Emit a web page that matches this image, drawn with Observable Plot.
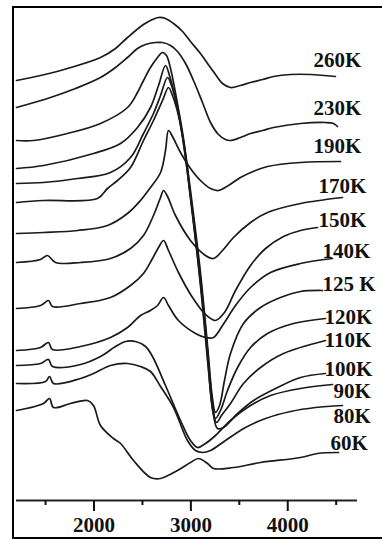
<!DOCTYPE html>
<html><head><meta charset="utf-8">
<script src="https://cdn.jsdelivr.net/npm/d3@7"></script>
<script src="https://cdn.jsdelivr.net/npm/@observablehq/plot@0.6"></script>
<style>
body{margin:0;background:#fff;}
#wrap{position:relative;width:382px;height:539px;overflow:hidden;}
#box{position:absolute;left:12px;top:6px;width:400px;height:529px;border:2px solid #000;border-right:none;pointer-events:none;}
</style>
</head><body><div id="wrap"><div id="chart"></div><div id="box"></div></div>
<script>
// wavenumber (cm^-1), offset absorbance (arb. units)
const k260 = [[1200,42.0],[1448,42.5],[1726,43.2],[2067,44.3],[2222,45.2],[2346,46.3],[2511,47.6],[2604,48.1],[2666,48.3],[2738,48.2],[2821,47.7],[2914,46.9],[2996,45.9],[3099,44.7],[3172,43.7],[3254,42.6],[3327,41.7],[3409,41.3],[3512,41.5],[3616,41.8],[3740,42.1],[3853,42.4],[4029,42.6],[4235,42.6],[4493,42.4]];
const k230 = [[1200,39.3],[1551,40.3],[1809,41.2],[2067,42.3],[2222,43.3],[2346,44.3],[2449,45.2],[2532,45.6],[2635,45.8],[2707,45.8],[2790,45.5],[2862,44.9],[2945,43.7],[3027,42.0],[3120,39.8],[3203,37.8],[3285,36.6],[3357,36.1],[3409,36.0],[3512,36.3],[3616,36.7],[3740,37.0],[3853,37.3],[4132,37.7],[4390,37.8],[4472,37.7],[4514,37.4]];
const k190 = [[1200,26.7],[1479,26.8],[1830,27.0],[2139,27.5],[2346,28.7],[2480,30.0],[2583,31.3],[2687,32.8],[2738,35.0],[2769,37.0],[2810,36.4],[2893,34.8],[2996,33.2],[3099,32.0],[3203,31.2],[3285,31.0],[3388,31.5],[3512,32.3],[3667,33.0],[3791,33.4],[4132,33.8],[4545,33.9]];
const k170 = [[1200,23.8],[1448,24.1],[1520,24.5],[1603,23.8],[1861,23.8],[2170,24.2],[2377,25.2],[2511,26.5],[2614,28.5],[2687,30.3],[2718,31.0],[2759,30.4],[2841,28.5],[2996,26.0],[3151,24.5],[3234,24.2],[3327,25.0],[3440,26.3],[3616,27.8],[3791,28.8],[4132,29.7],[4565,30.3]];
const k150 = [[1200,19.2],[1448,19.5],[1530,20.0],[1572,19.4],[1861,19.7],[2170,20.3],[2377,21.5],[2511,22.7],[2604,24.2],[2666,25.3],[2718,26.0],[2769,25.0],[2872,22.8],[3017,20.3],[3151,18.6],[3254,18.0],[3347,18.8],[3461,21.0],[3616,23.5],[3771,25.2],[3956,26.4],[4132,27.0],[4307,27.3]];
const k140 = [[1200,15.0],[1448,15.3],[1530,15.8],[1572,15.1],[1861,15.4],[2170,16.3],[2346,17.3],[2480,18.5],[2583,19.0],[2656,19.5],[2718,20.3],[2769,19.5],[2872,18.0],[3048,16.7],[3151,16.3],[3234,16.3],[3327,17.5],[3461,19.5],[3616,21.3],[3822,22.8],[4132,23.7],[4462,24.2]];
const k125 = [[1200,36.0],[1375,36.0],[1726,36.7],[2067,37.7],[2346,39.3],[2449,40.8],[2511,42.0],[2583,43.3],[2656,44.3],[2707,44.8],[2748,44.5],[2790,43.2],[2852,40.2],[2914,36.8],[2996,31.0],[3099,22.8],[3172,15.5],[3223,10.2],[3254,8.8],[3296,9.5],[3347,12.0],[3409,14.7],[3543,17.7],[3719,19.3],[3925,20.3],[4132,20.9],[4359,21.0]];
const k120 = [[1200,33.2],[1479,33.5],[1995,34.7],[2274,35.7],[2449,37.3],[2583,39.3],[2666,41.5],[2738,43.5],[2779,42.5],[2852,39.7],[2914,36.3],[2996,30.5],[3099,22.2],[3172,15.0],[3223,9.7],[3254,8.2],[3306,9.0],[3378,11.0],[3482,13.3],[3616,15.3],[3791,16.7],[4059,17.7],[4390,18.2]];
const k110 = [[1200,31.7],[1479,31.8],[1830,32.2],[2170,32.8],[2377,34.3],[2511,36.7],[2614,38.7],[2687,40.5],[2759,42.3],[2800,41.5],[2862,39.2],[2924,35.9],[2996,30.2],[3099,21.8],[3172,14.5],[3223,9.2],[3265,7.8],[3316,8.5],[3409,9.7],[3543,11.7],[3719,13.3],[3956,14.7],[4390,16.0]];
const k100 = [[1200,29.8],[1479,30.0],[2036,30.2],[2139,31.2],[2243,32.0],[2377,33.3],[2511,36.0],[2614,38.0],[2707,40.0],[2769,41.3],[2810,40.5],[2872,38.5],[2934,35.3],[3006,29.7],[3099,21.5],[3172,14.0],[3234,8.5],[3275,7.2],[3337,7.3],[3482,8.7],[3647,10.0],[3895,11.3],[4132,12.3],[4390,12.7]];
const k90 = [[1200,13.5],[1448,13.7],[1530,14.1],[1572,13.4],[1861,13.6],[2067,14.4],[2222,15.4],[2325,15.9],[2428,15.9],[2532,15.4],[2604,14.4],[2738,11.5],[2893,8.0],[2996,6.0],[3068,5.3],[3151,5.7],[3254,6.5],[3409,8.0],[3616,9.5],[3822,10.5],[4132,11.2],[4462,11.6]];
const k80 = [[1200,11.7],[1499,11.9],[1541,12.4],[1582,11.7],[1861,12.2],[1995,12.7],[2170,13.5],[2346,13.7],[2480,13.4],[2583,12.9],[2687,11.4],[2821,9.3],[2965,6.0],[3048,5.0],[3120,4.8],[3203,5.0],[3357,6.0],[3564,7.3],[3771,8.2],[4029,8.9],[4287,9.3],[4565,9.5]];
const k60 = [[1200,9.0],[1479,9.7],[1541,10.2],[1582,9.3],[1757,9.7],[1933,10.0],[1995,9.5],[2067,7.5],[2201,6.2],[2274,5.7],[2408,4.0],[2583,2.3],[2687,2.2],[2862,3.0],[2996,3.8],[3079,4.2],[3172,3.7],[3234,3.2],[3440,3.3],[3719,3.8],[4132,4.3],[4307,4.7],[4524,4.8]];

const seriesNames = ["260K","230K","190K","170K","150K","140K","125 K","120K","110K","100K","90K","80K","60K"];
const seriesData = [k260,k230,k190,k170,k150,k140,k125,k120,k110,k100,k90,k80,k60];
// label anchors (wavenumber, offset)
const labelX = [4266,4266,4266,4318,4318,4359,4359,4380,4380,4380,4472,4472,4441];
const labelY = [44.05,39.25,35.45,31.45,28.05,24.95,21.65,18.35,16.05,13.15,10.95,8.45,5.75];
const majorTicks = [2000,3000,4000];
const minorTicks = [1500,2500,3500,4500];

const rows = seriesNames.flatMap((name,i)=>seriesData[i].map(([w,a])=>({T:name,w,a})));
const labels = seriesNames.map((name,i)=>({T:name,x:labelX[i],y:labelY[i]}));

const chart = Plot.plot({
  width:382, height:539,
  marginLeft:16, marginRight:25, marginTop:7, marginBottom:39,
  x:{domain:[1200,4720]},
  y:{domain:[0,49.3], axis:null},
  style:{fontFamily:"'Liberation Serif','Times New Roman',serif", fontSize:"21px", fontWeight:"bold", color:"#111", background:"#fff", overflow:"visible"},
  marks:[
    Plot.ruleY([0],{stroke:"#222",strokeWidth:2.2}),
    Plot.axisX(minorTicks,{tickSize:5,strokeWidth:2,tickFormat:()=>"",label:null}),
    Plot.axisX(majorTicks,{tickSize:11,strokeWidth:2,tickPadding:6,tickFormat:d=>String(d),label:null,fontSize:21,fontWeight:"bold"}),
    Plot.line(rows,{x:"w",y:"a",z:"T",curve:"catmull-rom",stroke:"#1a1a1a",strokeWidth:1.7}),
    Plot.text(labels,{x:"x",y:"y",text:"T",textAnchor:"start",lineAnchor:"middle",fill:"#111",fontSize:21,fontWeight:"bold"})
  ]
});
document.getElementById("chart").append(chart);
</script>
</body></html>
